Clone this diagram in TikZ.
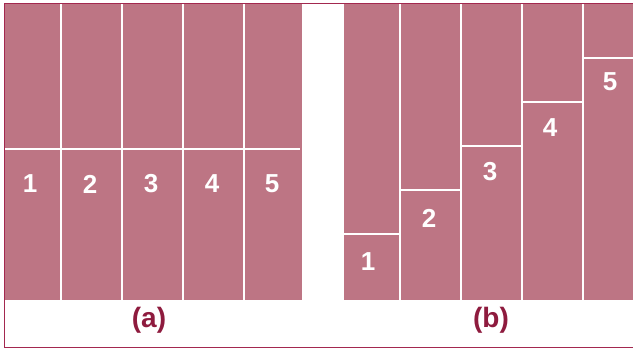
\documentclass[tikz,border=0pt]{standalone}
\usepackage{fontspec}
\setmainfont{Liberation Sans}
\definecolor{panelfill}{HTML}{BD7584}
\definecolor{bordercol}{HTML}{A3284F}
\definecolor{labelcol}{HTML}{8E1B3E}
\begin{document}
\begin{tikzpicture}[x=1pt,y=-1pt,
  divider/.style={white,line width=2.6pt},
  num/.style={text=white,font=\fontsize{26}{26}\selectfont\bfseries,inner sep=0pt},
  caplabel/.style={text=labelcol,font=\fontsize{28}{28}\selectfont\bfseries,inner sep=0pt},
  frameline/.style={bordercol,line width=1.4pt}]
\useasboundingbox (0,0) rectangle (633,350);
% panels
\fill[panelfill] (5,4) rectangle (302,300);
\fill[panelfill] (344,4) rectangle (633,300);
% panel (a) dividers
\foreach \x in {61,122,183,244}{\draw[divider] (\x,4) -- (\x,300);}
\draw[divider] (5,149) -- (300,149);
% panel (b) dividers
\foreach \x in {400,461,522,583}{\draw[divider] (\x,4) -- (\x,300);}
\draw[divider] (344,234) -- (400,234);
\draw[divider] (400,190) -- (461,190);
\draw[divider] (461,146) -- (522,146);
\draw[divider] (522,102) -- (583,102);
\draw[divider] (583,58) -- (633,58);
% numbers (a)
\node[num] (a1) at (30,184) {1};
\node[num] (a2) at (90,184) {2};
\node[num] (a3) at (151,184) {3};
\node[num] (a4) at (212,184) {4};
\node[num] (a5) at (272,184) {5};
% numbers (b)
\node[num] (b1) at (368,262) {1};
\node[num] (b2) at (429,218) {2};
\node[num] (b3) at (490,172) {3};
\node[num] (b4) at (550,128) {4};
\node[num] (b5) at (610,82) {5};
% captions
\node[caplabel] (capa) at (149,320) {(a)};
\node[caplabel] (capb) at (491,320) {(b)};
% frame
\draw[frameline] (4.5,3.5) -- (633,3.5);
\draw[frameline] (4.5,3.5) -- (4.5,347.5) -- (633,347.5);
\end{tikzpicture}
\end{document}
